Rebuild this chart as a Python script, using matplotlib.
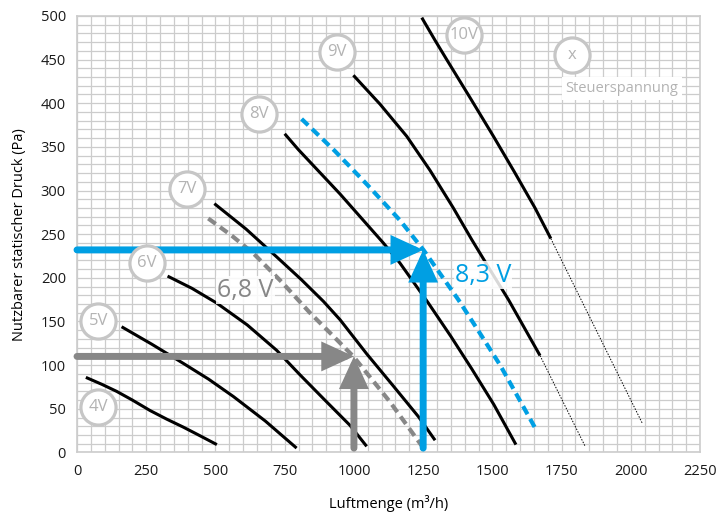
import numpy as np
import matplotlib.pyplot as plt

plt.rcParams['font.family'] = ['Open Sans', 'DejaVu Sans']

# Kennlinien (Luftmenge m3/h, Druck Pa)
v4_x = [32, 90, 143, 200, 264, 325, 384, 445, 505]
v4_y = [86, 78, 70, 60, 48, 38, 29, 19, 9]
v5_x = [161, 270, 384, 475, 565, 680, 793]
v5_y = [144, 124, 102, 84, 64, 36, 5]
v6_x = [327, 415, 505, 615, 721, 805, 895, 986, 1046]
v6_y = [202, 188, 171, 146, 117, 89, 60, 31, 7]
v7_x = [496, 610, 721, 810, 890, 950, 1046, 1140, 1233, 1293]
v7_y = [285, 256, 224, 198, 173, 152, 113, 77, 41, 14]
v8_x = [750, 799, 950, 1106, 1166, 1269, 1350, 1425, 1505, 1585]
v8_y = [365, 347, 296, 240, 217, 171, 133, 96, 55, 9]
v9_x = [998, 1094, 1191, 1275, 1359, 1425, 1490, 1558, 1615, 1672]
v9_y = [432, 399, 362, 323, 280, 244, 210, 175, 143, 111]
v10_x = [1245, 1293, 1335, 1420, 1504, 1580, 1654, 1711]
v10_y = [498, 472, 450, 406, 362, 321, 280, 245]
v9_dot_x = [1672, 1835]
v9_dot_y = [111, 7]
v10_dot_x = [1711, 2042]
v10_dot_y = [245, 33]

v68_x = [474, 560, 637, 740, 841, 920, 998, 1130, 1251]
v68_y = [268, 248, 228, 195, 160, 135, 110, 58, 5]
v83_x = [811, 870, 932, 1050, 1166, 1251, 1377, 1450, 1528, 1595, 1658]
v83_y = [382, 364, 345, 306, 266, 232, 175, 139, 100, 62, 26]

# Arbeitspunkte
p68 = (1000, 110)
p83 = (1250, 232)

labels = ['4V', '5V', '6V', '7V', '8V', '9V', '10V', 'x']
label_x = [77, 77, 252, 398, 657, 938, 1398, 1786]
label_y = [52, 150, 217, 302, 388, 459, 478, 455]

blue = '#009fe3'
grey = '#878787'
light = '#c6c6c6'

fig = plt.figure(figsize=(7.17, 5.13), dpi=100)
ax = fig.add_axes([0.1074, 0.118, 0.869, 0.851])

ax.set_xlim(0, 2250)
ax.set_ylim(0, 500)
ax.set_xticks(np.arange(0, 2251, 250))
ax.set_yticks(np.arange(0, 501, 50))
ax.set_xticks(np.arange(0, 2251, 50), minor=True)
ax.set_yticks(np.arange(0, 501, 10), minor=True)
ax.grid(which='both', color='#cccccc', lw=0.9)
ax.set_axisbelow(True)
ax.tick_params(which='both', length=0, labelsize=10.5, colors='#1a1a1a', pad=8)
for s in ax.spines.values():
    s.set_color('#cccccc')
    s.set_linewidth(1.2)

for xs, ys in [(v4_x, v4_y), (v5_x, v5_y), (v6_x, v6_y), (v7_x, v7_y),
               (v8_x, v8_y), (v9_x, v9_y), (v10_x, v10_y)]:
    ax.plot(xs, ys, color='black', lw=2.2, solid_capstyle='butt', zorder=3)
ax.plot(v9_dot_x, v9_dot_y, color='black', lw=0.7, ls=(0, (1.5, 1.5)), zorder=3)
ax.plot(v10_dot_x, v10_dot_y, color='black', lw=0.7, ls=(0, (1.5, 1.5)), zorder=3)

ax.plot(v68_x, v68_y, color=grey, lw=3, ls=(0, (2.2, 1.3)), zorder=4)
ax.plot(v83_x, v83_y, color=blue, lw=3, ls=(0, (2.2, 1.3)), zorder=4)

# Pfeile
arr = '-|>,head_length=1.2,head_width=0.55'
for start, end, c in [((0, p83[1]), p83, blue), ((p83[0], 5), p83, blue),
                      ((0, p68[1]), p68, grey), ((p68[0], 5), p68, grey)]:
    ax.annotate('', xy=end, xytext=start,
                arrowprops=dict(arrowstyle=arr, color=c, lw=5, shrinkA=0, shrinkB=0,
                                mutation_scale=12.5, capstyle='round', joinstyle='miter'),
                zorder=5)

ax.text(608, 186, '6,8 V', color=grey, fontsize=18, ha='center', va='center', zorder=6,
        bbox=dict(boxstyle='square,pad=0.05', fc='white', ec='none', alpha=0.85))
ax.text(1466, 203, '8,3 V', color=blue, fontsize=18, ha='center', va='center', zorder=6,
        bbox=dict(boxstyle='square,pad=0.05', fc='white', ec='none', alpha=0.85))

ax.scatter(label_x, label_y, s=640, facecolor='white', edgecolor=light, linewidth=2.3,
           zorder=6, clip_on=False)
for t, x, y in zip(labels, label_x, label_y):
    ax.text(x, y, t, color='#b3b3b3', fontsize=12, ha='center', va='center', zorder=7)

ax.text(1967, 417, 'Steuerspannung', color='#b3b3b3', fontsize=10.5, ha='center', va='center',
        zorder=6, bbox=dict(boxstyle='square,pad=0.25', fc='white', ec='none'))

ax.set_xlabel('Luftmenge (m³/h)', fontsize=10.5, labelpad=12)
ax.set_ylabel('Nutzbarer statischer Druck (Pa)', fontsize=10.5, labelpad=10)

fig.savefig('out.png', dpi=100)
